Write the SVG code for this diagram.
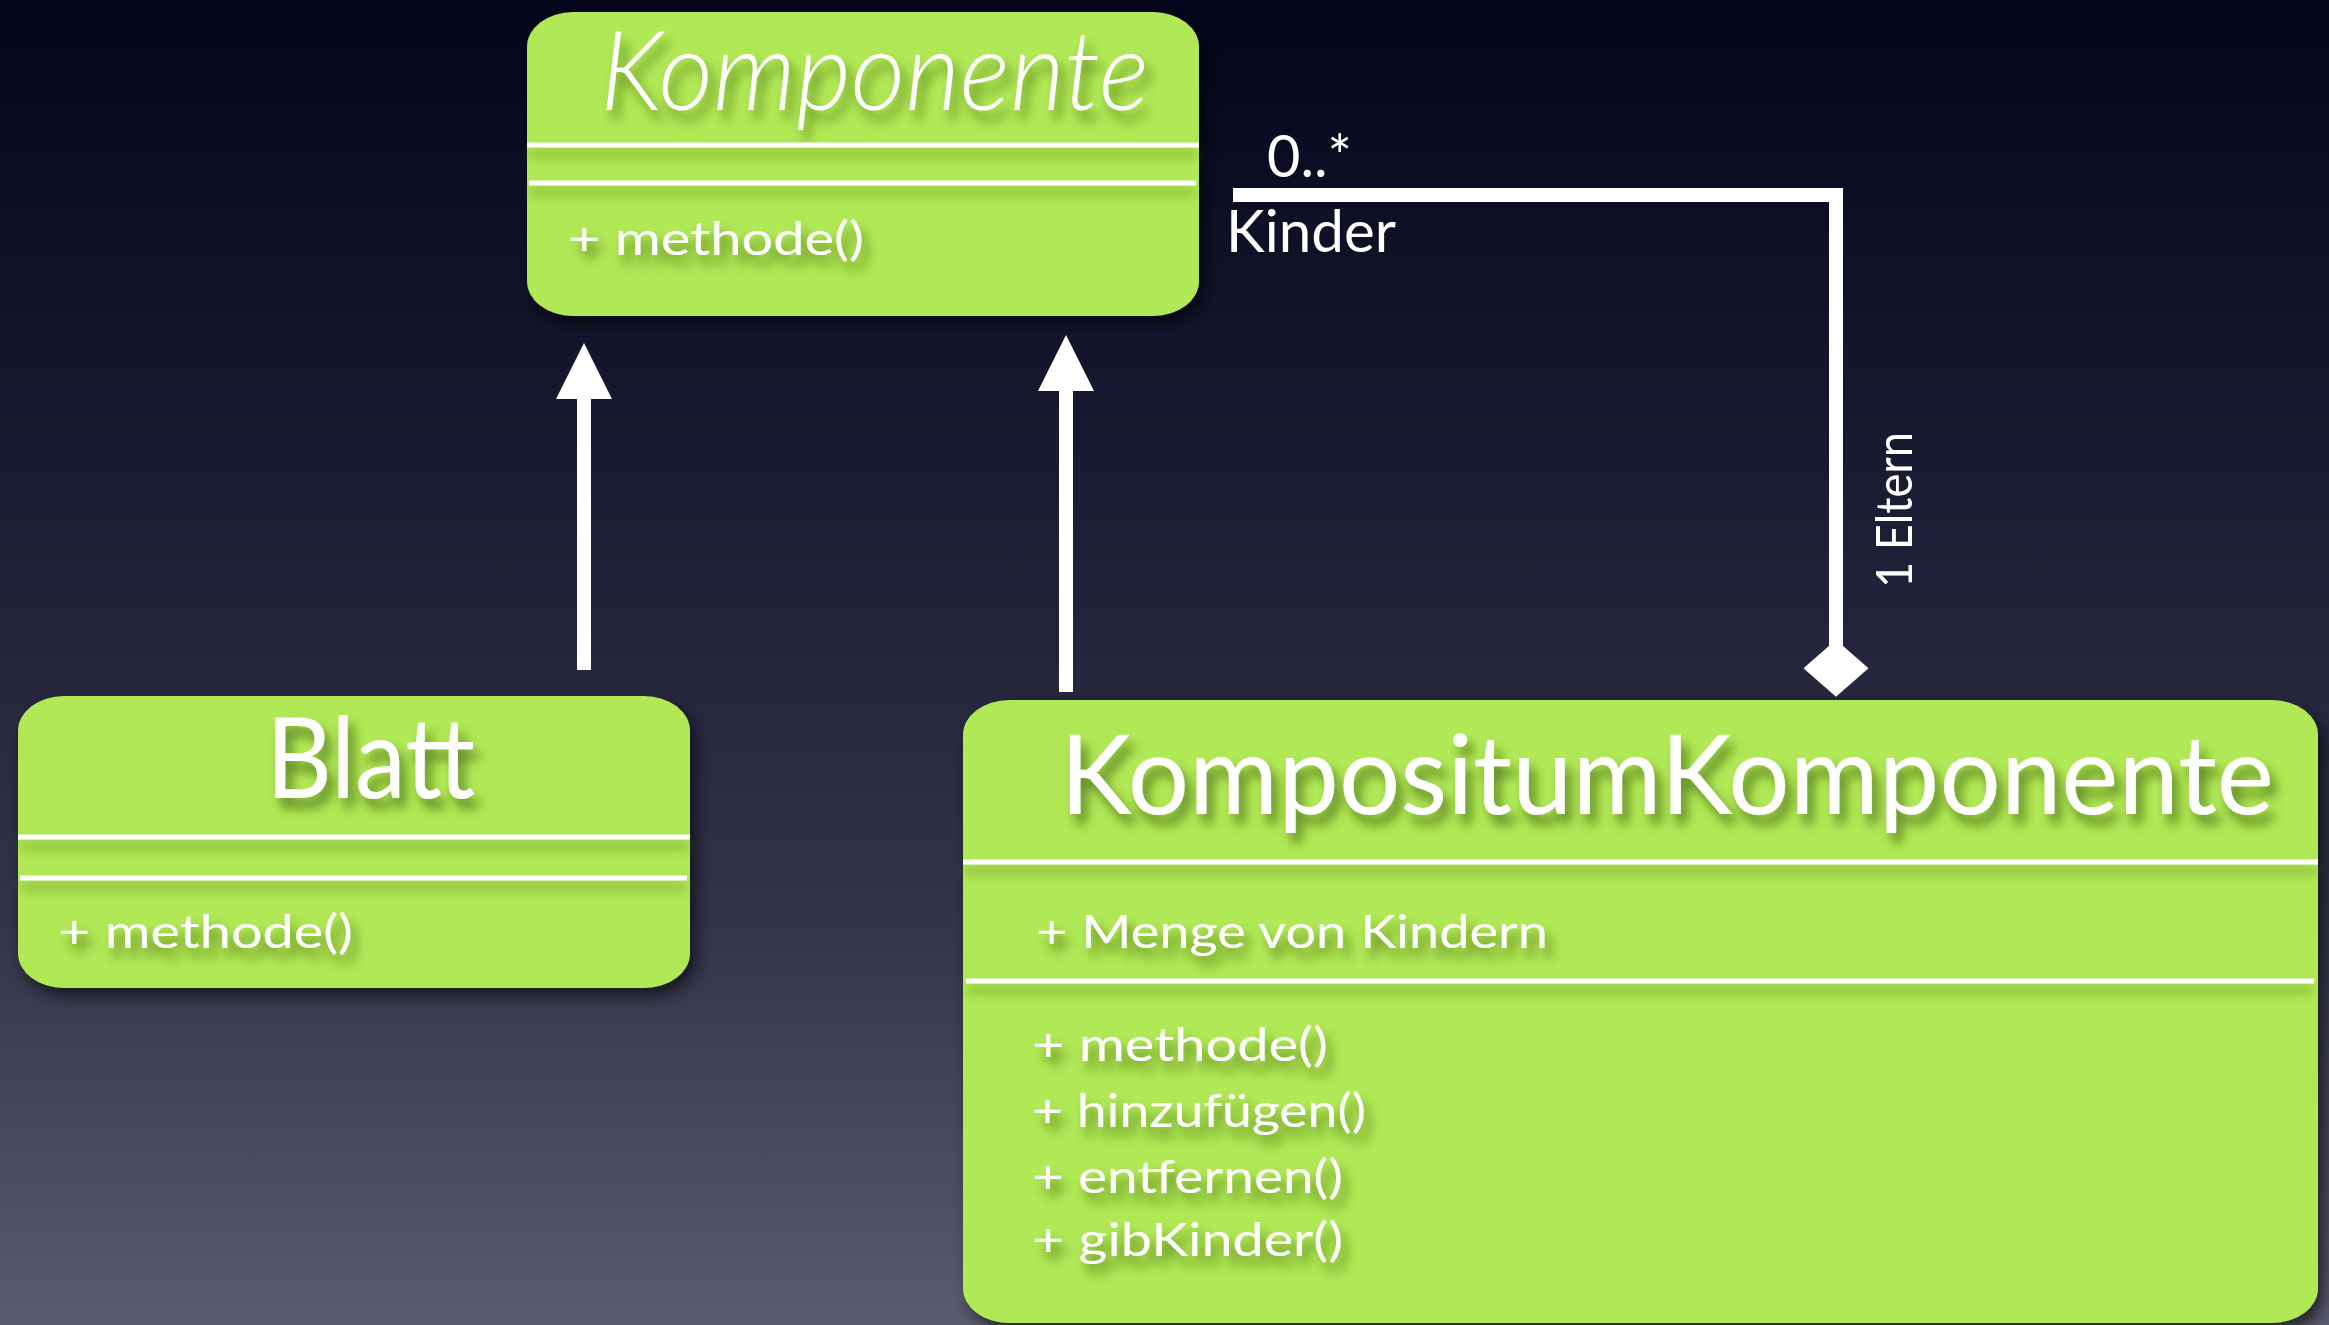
<svg xmlns="http://www.w3.org/2000/svg" width="2329" height="1325" viewBox="0 0 2329 1325">
<defs>
  <linearGradient id="bg" x1="0" y1="0" x2="0" y2="1">
    <stop offset="0" stop-color="#04041a"/>
    <stop offset="0.35" stop-color="#1a1a32"/>
    <stop offset="0.7" stop-color="#33334a"/>
    <stop offset="1" stop-color="#5c5c70"/>
  </linearGradient>
  <filter id="boxShadow" x="-10%" y="-10%" width="125%" height="130%">
    <feDropShadow dx="6" dy="8" stdDeviation="8" flood-color="#000000" flood-opacity="0.6"/>
  </filter>
  <filter id="textShadow" x="-10%" y="-30%" width="125%" height="180%">
    <feDropShadow dx="6" dy="10" stdDeviation="6" flood-color="#3d5e10" flood-opacity="0.75"/>
  </filter>
  <filter id="lineShadow" filterUnits="userSpaceOnUse" x="0" y="0" width="2329" height="1325">
    <feDropShadow dx="0" dy="9" stdDeviation="6" flood-color="#4f7a18" flood-opacity="0.6"/>
  </filter>
  <marker id="triangle" markerUnits="userSpaceOnUse" markerWidth="56" markerHeight="56" viewBox="0 0 54 54" refX="0" refY="27" orient="auto">
    <path d="M0,0 L54,27 L0,54 Z" fill="#ffffff"/>
  </marker>
  <marker id="diamond" markerUnits="userSpaceOnUse" markerWidth="57" markerHeight="65" viewBox="0 0 56 64" refX="12" refY="32" orient="auto">
    <path d="M0,32 L28,0 L56,32 L28,64 Z" fill="#ffffff"/>
  </marker>
  <style>
    .box { fill: #b1e957; filter: url(#boxShadow); }
    .sep { fill: #ffffff; filter: url(#lineShadow); }
    .t { fill: #ffffff; font-family: "Lato", "Liberation Sans", "DejaVu Sans", sans-serif; filter: url(#textShadow); }
    .title { font-size: 110px; }
    .member { font-size: 47px; }
    .label { fill: #ffffff; font-family: "Lato", "Liberation Sans", "DejaVu Sans", sans-serif; font-size: 58px; }
    .conn { stroke: #ffffff; stroke-width: 14; fill: none; }
  </style>
</defs>

<rect x="0" y="0" width="2329" height="1325" fill="url(#bg)"/>

<g id="connectors">
  <line class="conn" x1="584" y1="670" x2="584" y2="399" marker-end="url(#triangle)"/>
  <line class="conn" x1="1066" y1="692" x2="1066" y2="391" marker-end="url(#triangle)"/>
  <polyline class="conn" points="1233,195 1836,195 1836,652" marker-end="url(#diamond)"/>
  <text class="label" x="1267" y="177" textLength="85" lengthAdjust="spacingAndGlyphs">0..*</text>
  <text class="label" x="1226" y="252" textLength="170" lengthAdjust="spacingAndGlyphs">Kinder</text>
  <text class="label" transform="translate(1912,588) rotate(-90)" x="0" y="0" style="font-size:51px" textLength="156" lengthAdjust="spacingAndGlyphs">1 Eltern</text>
</g>

<g id="komponente">
  <rect class="box" x="527" y="12" width="672" height="304" rx="46" ry="35"/>
  <text class="t title" x="600" y="110" style="font-style:italic;font-weight:300" textLength="549" lengthAdjust="spacingAndGlyphs">Komponente</text>
  <rect class="sep" x="527" y="142.5" width="672" height="5"/>
  <rect class="sep" x="529" y="180.5" width="667" height="5"/>
  <text class="t member" x="568" y="255" textLength="296" lengthAdjust="spacingAndGlyphs">+ methode()</text>
</g>

<g id="blatt">
  <rect class="box" x="18" y="696" width="672" height="292" rx="46" ry="35"/>
  <text class="t title" x="266" y="798" style="font-size:112px" textLength="209" lengthAdjust="spacingAndGlyphs">Blatt</text>
  <rect class="sep" x="18" y="834.5" width="672" height="5"/>
  <rect class="sep" x="20" y="875.5" width="667" height="5"/>
  <text class="t member" x="58" y="948" textLength="295" lengthAdjust="spacingAndGlyphs">+ methode()</text>
</g>

<g id="kompositumKomponente">
  <rect class="box" x="963" y="700" width="1355" height="623" rx="46" ry="35"/>
  <text class="t title" x="1060" y="814" textLength="1214" lengthAdjust="spacingAndGlyphs">KompositumKomponente</text>
  <rect class="sep" x="963" y="859.5" width="1355" height="5"/>
  <text class="t member" x="1036" y="948" textLength="512" lengthAdjust="spacingAndGlyphs">+ Menge von Kindern</text>
  <rect class="sep" x="966" y="978.5" width="1348" height="5"/>
  <text class="t member" x="1032" y="1061" textLength="296" lengthAdjust="spacingAndGlyphs">+ methode()</text>
  <text class="t member" x="1032" y="1127" textLength="334" lengthAdjust="spacingAndGlyphs">+ hinzufügen()</text>
  <text class="t member" x="1032" y="1193" textLength="311" lengthAdjust="spacingAndGlyphs">+ entfernen()</text>
  <text class="t member" x="1032" y="1256" textLength="311" lengthAdjust="spacingAndGlyphs">+ gibKinder()</text>
</g>
</svg>
